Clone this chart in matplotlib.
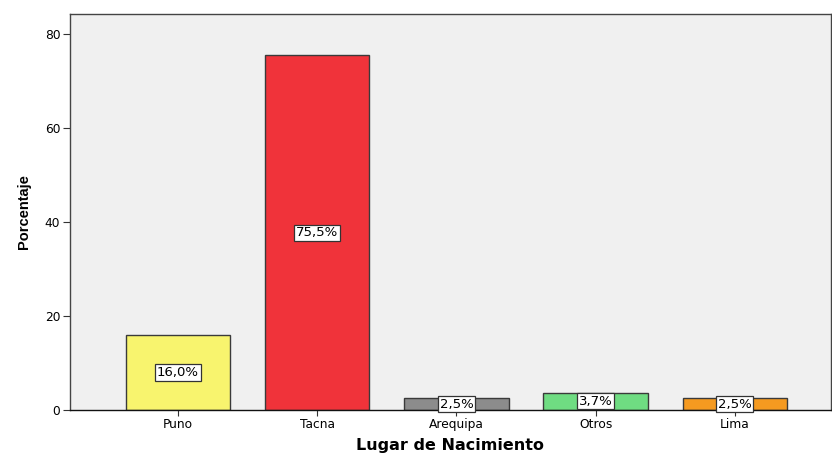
import matplotlib
matplotlib.use("Agg")
import matplotlib.pyplot as plt

categories = ["Puno", "Tacna", "Arequipa", "Otros", "Lima"]
values = [16.0, 75.5, 2.5, 3.7, 2.5]
labels = ["16,0%", "75,5%", "2,5%", "3,7%", "2,5%"]
colors = ["#F8F46E", "#F0333A", "#8C8C8C", "#6FDC82", "#F59A20"]
yticks = [0, 20, 40, 60, 80]

plt.rcParams['font.family'] = ['DejaVu Sans']

fig = plt.figure(figsize=(8.32, 4.54), dpi=100)
ax = fig.add_axes([70/832, 44/454, 761/832, 396/454])
ax.set_facecolor("#F0F0F0")

x = list(range(len(categories)))
ax.bar(x, values, width=0.75, color=colors, edgecolor="#3A3A3A", linewidth=1.0, zorder=2)

for xi, v, lab in zip(x, values, labels):
    ax.text(xi, v / 2, lab, ha="center", va="center", fontsize=9.5, zorder=3,
            bbox=dict(boxstyle="square,pad=0.12", fc="white", ec="#333333", lw=0.9))

ax.set_xlim(-0.775, 4.69)
ax.set_ylim(0, 84.3)
ax.set_xticks(x)
ax.set_xticklabels(categories, fontsize=8.8)
ax.set_yticks(yticks)
ax.set_yticklabels([str(t) for t in yticks], fontsize=8.8)
ax.tick_params(axis="y", length=5, width=0.8, color="#333333", pad=2)
ax.tick_params(axis="x", length=4, width=0.8, color="#333333", pad=1.5)

for s in ["left", "top", "right"]:
    ax.spines[s].set_color("#444444")
    ax.spines[s].set_linewidth(1.0)
ax.spines["bottom"].set_color("#111111")
ax.spines["bottom"].set_linewidth(1.0)

ax.set_ylabel("Porcentaje", fontsize=10.5, fontweight="bold", labelpad=10,
              family=['Liberation Sans Narrow', 'Liberation Sans'])
ax.set_xlabel("Lugar de Nacimiento", fontsize=11.5, fontweight="bold", labelpad=5)

fig.savefig("out.png", dpi=100)
